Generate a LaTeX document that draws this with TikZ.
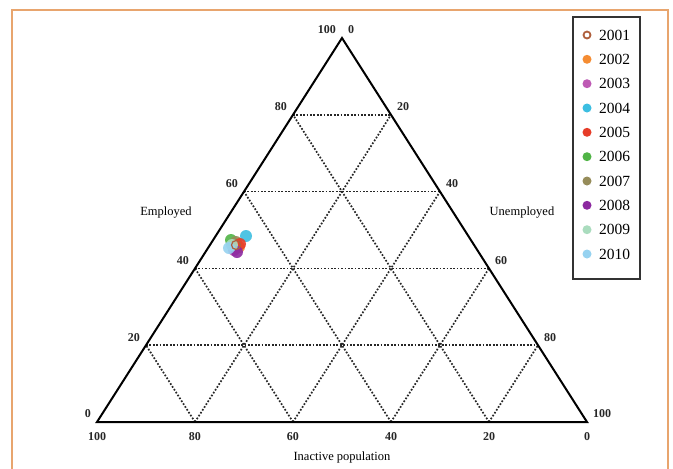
\documentclass[tikz,border=0pt]{standalone}
\usepackage{fontspec}
\setmainfont{Liberation Serif}
\usetikzlibrary{calc}
\definecolor{frameor}{RGB}{232,165,110}
\definecolor{c01}{RGB}{175,95,60}
\definecolor{c02}{RGB}{245,140,50}
\definecolor{c03}{RGB}{190,90,180}
\definecolor{c04}{RGB}{60,190,225}
\definecolor{c05}{RGB}{230,60,40}
\definecolor{c06}{RGB}{80,180,70}
\definecolor{c07}{RGB}{150,140,90}
\definecolor{c08}{RGB}{140,40,160}
\definecolor{c09}{RGB}{170,220,190}
\definecolor{c10}{RGB}{150,210,240}
\tikzset{
  edge/.style={line width=2pt, black, line join=miter},
  gridline/.style={line width=1.7pt, black!85, dash pattern=on 1.7pt off 1.7pt},
  ticklab/.style={font=\fontsize{12}{12}\selectfont\bfseries, inner sep=0pt, text=black!85},
  axlab/.style={font=\fontsize{12.5}{12.5}\selectfont, inner sep=0pt, text=black},
  legtext/.style={font=\fontsize{15.5}{15.5}\selectfont, anchor=west, inner sep=0pt},
  dotmark/.style={circle, inner sep=0pt, minimum size=9pt},
  datadot/.style={circle, inner sep=0pt, minimum size=12pt, opacity=0.9}
}
\begin{document}
\begin{tikzpicture}[x=1pt,y=-1pt]
\useasboundingbox (0,0) rectangle (673,469);
\fill[white] (0,0) rectangle (673,469);
% frame
\coordinate (f1) at (12,469);
\coordinate (f2) at (12,10);
\coordinate (f3) at (668,10);
\coordinate (f4) at (668,469);
\draw[frameor, line width=2pt] (f1) -- (f2) -- (f3) -- (f4);
% triangle corners
\coordinate (A) at (97,422);
\coordinate (B) at (587,422);
\coordinate (C) at (342,38);
% grid
\foreach \t in {0.2,0.4,0.6,0.8}{
  \pgfmathsetmacro{\u}{1-\t}
  \draw[gridline] ($(A)!\t!(C)$) -- ($(B)!\t!(C)$);
  \draw[gridline] ($(A)!\t!(B)$) -- ($(B)!\u!(C)$);
  \draw[gridline] ($(A)!\t!(B)$) -- ($(A)!\t!(C)$);
}
\draw[edge] (A) -- (B) -- (C) -- cycle;
% tick labels
\foreach \t/\v in {0/0,0.2/20,0.4/40,0.6/60,0.8/80,1/100}{
  \node[ticklab, anchor=east, xshift=-6pt, yshift=8pt] (L\v) at ($(A)!\t!(C)$) {\v};
}
\foreach \t/\v in {0/100,0.2/80,0.4/60,0.6/40,0.8/20,1/0}{
  \node[ticklab, anchor=west, xshift=6pt, yshift=8pt] (R\v) at ($(B)!\t!(C)$) {\v};
  \node[ticklab, anchor=north, yshift=-10pt] (Bt\v) at ($(A)!\t!(B)$) {\v};
}
% axis names
\node[axlab] (emp) at (166,213) {Employed};
\node[axlab] (unemp) at (522,213) {Unemployed};
\node[axlab] (inact) at (342,457) {Inactive population};
% data cluster
\node[datadot, fill=c06] (d06) at (231,240) {};
\node[datadot, fill=c04] (d04) at (246,236) {};
\node[datadot, fill=c07] (d07) at (236,242) {};
\node[datadot, fill=c02] (d02) at (239,247) {};
\node[datadot, fill=c05] (d05) at (240,244) {};
\node[datadot, fill=c03] (d03) at (234,250) {};
\node[datadot, fill=c08] (d08) at (237,252) {};
\node[datadot, fill=c09] (d09) at (232,245) {};
\node[datadot, fill=c10] (d10) at (229,248) {};
\node[circle, inner sep=0pt, minimum size=9pt, draw=c01, line width=1.2pt] (d01) at (236,245) {};
% legend
\draw[line width=1.2pt, black!80] (573,17) rectangle (640,279);
\node[circle, inner sep=0pt, minimum size=7pt, draw=c01, line width=1.8pt] (m01) at (587,35) {};
\node[legtext] (t01) at (599,35) {2001};
\foreach \i/\c/\y in {02/c02/59.3,03/c03/83.7,04/c04/108,05/c05/132.3,06/c06/156.7,07/c07/181,08/c08/205.3,09/c09/229.7,10/c10/254}{
  \node[dotmark, fill=\c] (m\i) at (587,\y) {};
  \node[legtext] (t\i) at (599,\y) {20\i};
}
\end{tikzpicture}
\end{document}
